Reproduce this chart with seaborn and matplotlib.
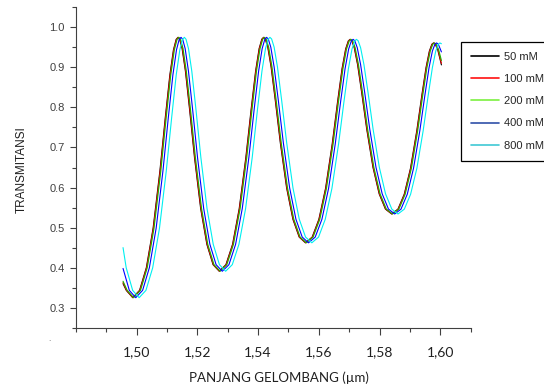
# transmitansi_plot.py

import pandas as pd
import matplotlib.pyplot as plt
from matplotlib.lines import Line2D
import seaborn as sns

# === DATA ===
labels = ['50 mM', '100 mM', '200 mM', '400 mM', '800 mM']

wl_50 = [1.4955, 1.49657,
         1.4987, 1.50094, 1.50317, 1.50541, 1.50764, 1.50943, 1.51092, 1.51211, 1.51300, 1.5136,
         1.51414, 1.51496, 1.51605, 1.51741, 1.51904, 1.52108, 1.52312, 1.52516, 1.5272,
         1.52939, 1.53158, 1.53377, 1.53596, 1.53771, 1.53917, 1.54034, 1.54122, 1.5418,
         1.54235, 1.54318, 1.54428, 1.54566, 1.54732, 1.54939, 1.55146, 1.55353, 1.5556,
         1.55781, 1.56001, 1.56222, 1.56442, 1.56618, 1.56765, 1.56883, 1.56971, 1.5703,
         1.57085, 1.57167, 1.57277, 1.57414, 1.57578, 1.57784, 1.57989, 1.58195, 1.5840,
         1.58607, 1.58814, 1.59021, 1.59228, 1.59394, 1.59532, 1.59642, 1.59725, 1.5978,
         1.59835, 1.59918, 1.6004]
tr_50 = [0.360, 0.3432,
         0.325, 0.3432, 0.3997, 0.4987, 0.6412, 0.7755, 0.8811, 0.9439, 0.9699, 0.975,
         0.9704, 0.9471, 0.8907, 0.7958, 0.6751, 0.5471, 0.4581, 0.4074, 0.391,
         0.4074, 0.4581, 0.5471, 0.6751, 0.7958, 0.8907, 0.9471, 0.9704, 0.975,
         0.9710, 0.9505, 0.9009, 0.8176, 0.7115, 0.5991, 0.5209, 0.4764, 0.462,
         0.4762, 0.5204, 0.5978, 0.7091, 0.8141, 0.8966, 0.9457, 0.9660, 0.970,
         0.9666, 0.9492, 0.9070, 0.8362, 0.7461, 0.6505, 0.5841, 0.5462, 0.534,
         0.5460, 0.5831, 0.6481, 0.7417, 0.8300, 0.8993, 0.9406, 0.9577, 0.961,
         0.9583, 0.9442, 0.9062]

wl_100 = [1.4955, 1.49667,
          1.4988, 1.50104, 1.50327, 1.50551, 1.50774, 1.50953, 1.51102, 1.51221, 1.51310, 1.5137,
          1.51424, 1.51506, 1.51615, 1.51751, 1.51914, 1.52118, 1.52322, 1.52526, 1.5273,
          1.52949, 1.53168, 1.53387, 1.53606, 1.53781, 1.53927, 1.54044, 1.54132, 1.5419,
          1.54245, 1.54328, 1.54438, 1.54576, 1.54742, 1.54949, 1.55156, 1.55363, 1.5557,
          1.55791, 1.56011, 1.56232, 1.56452, 1.56628, 1.56775, 1.56893, 1.56981, 1.5704,
          1.57095, 1.57177, 1.57287, 1.57424, 1.57588, 1.57794, 1.57999, 1.58205, 1.5841,
          1.58617, 1.58824, 1.59031, 1.59238, 1.59404, 1.59542, 1.59652, 1.59735, 1.5979,
          1.59845, 1.59928, 1.6004]
tr_100 = [0.363, 0.3432,
          0.325, 0.3432, 0.3997, 0.4987, 0.6412, 0.7755, 0.8811, 0.9439, 0.9699, 0.975,
          0.9704, 0.9471, 0.8907, 0.7958, 0.6751, 0.5471, 0.4581, 0.4074, 0.391,
          0.4074, 0.4581, 0.5471, 0.6751, 0.7958, 0.8907, 0.9471, 0.9704, 0.975,
          0.9710, 0.9505, 0.9009, 0.8176, 0.7115, 0.5991, 0.5209, 0.4764, 0.462,
          0.4762, 0.5204, 0.5978, 0.7091, 0.8141, 0.8966, 0.9457, 0.9660, 0.970,
          0.9666, 0.9492, 0.9070, 0.8362, 0.7461, 0.6505, 0.5841, 0.5462, 0.534,
          0.5460, 0.5831, 0.6481, 0.7417, 0.8300, 0.8993, 0.9406, 0.9577, 0.961,
          0.9583, 0.9442, 0.910]

wl_200 = [1.4955, 1.49687,
          1.4990, 1.50124, 1.50347, 1.50571, 1.50794, 1.50973, 1.51122, 1.51241, 1.51330, 1.5139,
          1.51444, 1.51526, 1.51635, 1.51771, 1.51934, 1.52138, 1.52342, 1.52546, 1.5275,
          1.52969, 1.53188, 1.53407, 1.53626, 1.53801, 1.53947, 1.54064, 1.54152, 1.5421,
          1.54265, 1.54348, 1.54458, 1.54596, 1.54762, 1.54969, 1.55176, 1.55383, 1.5559,
          1.55811, 1.56031, 1.56252, 1.56472, 1.56648, 1.56795, 1.56913, 1.57001, 1.5706,
          1.57115, 1.57197, 1.57307, 1.57444, 1.57608, 1.57814, 1.58019, 1.58225, 1.5843,
          1.58637, 1.58844, 1.59051, 1.59258, 1.59424, 1.59562, 1.59672, 1.59755, 1.5981,
          1.59865, 1.59948, 1.6004]
tr_200 = [0.366, 0.3432,
          0.325, 0.3432, 0.3997, 0.4987, 0.6412, 0.7755, 0.8811, 0.9439, 0.9699, 0.975,
          0.9704, 0.9471, 0.8907, 0.7958, 0.6751, 0.5471, 0.4581, 0.4074, 0.391,
          0.4074, 0.4581, 0.5471, 0.6751, 0.7958, 0.8907, 0.9471, 0.9704, 0.975,
          0.9710, 0.9505, 0.9009, 0.8176, 0.7115, 0.5991, 0.5209, 0.4764, 0.462,
          0.4762, 0.5204, 0.5978, 0.7091, 0.8141, 0.8966, 0.9457, 0.9660, 0.970,
          0.9666, 0.9492, 0.9070, 0.8362, 0.7461, 0.6505, 0.5841, 0.5462, 0.534,
          0.5460, 0.5831, 0.6481, 0.7417, 0.8300, 0.8993, 0.9406, 0.9577, 0.961,
          0.9583, 0.9442, 0.917]

wl_400 = [1.4955, 1.49757,
          1.4997, 1.50194, 1.50417, 1.50641, 1.50864, 1.51043, 1.51192, 1.51311, 1.51400, 1.5146,
          1.51514, 1.51596, 1.51705, 1.51841, 1.52004, 1.52208, 1.52412, 1.52616, 1.5282,
          1.53039, 1.53258, 1.53477, 1.53696, 1.53871, 1.54017, 1.54134, 1.54222, 1.5428,
          1.54335, 1.54418, 1.54528, 1.54666, 1.54832, 1.55039, 1.55246, 1.55453, 1.5566,
          1.55881, 1.56101, 1.56322, 1.56542, 1.56718, 1.56865, 1.56983, 1.57071, 1.5713,
          1.57185, 1.57267, 1.57377, 1.57514, 1.57678, 1.57884, 1.58089, 1.58295, 1.5850,
          1.58707, 1.58914, 1.59121, 1.59328, 1.59494, 1.59632, 1.59742, 1.59825, 1.5988,
          1.59935, 1.6004]
tr_400 = [0.398, 0.3432,
          0.325, 0.3432, 0.3997, 0.4987, 0.6412, 0.7755, 0.8811, 0.9439, 0.9699, 0.975,
          0.9704, 0.9471, 0.8907, 0.7958, 0.6751, 0.5471, 0.4581, 0.4074, 0.391,
          0.4074, 0.4581, 0.5471, 0.6751, 0.7958, 0.8907, 0.9471, 0.9704, 0.975,
          0.9710, 0.9505, 0.9009, 0.8176, 0.7115, 0.5991, 0.5209, 0.4764, 0.462,
          0.4762, 0.5204, 0.5978, 0.7091, 0.8141, 0.8966, 0.9457, 0.9660, 0.970,
          0.9666, 0.9492, 0.9070, 0.8362, 0.7461, 0.6505, 0.5841, 0.5462, 0.534,
          0.5460, 0.5831, 0.6481, 0.7417, 0.8300, 0.8993, 0.9406, 0.9577, 0.961,
          0.9583, 0.9387]

wl_800 = [1.4955, 1.49654, 1.49867,
          1.5008, 1.50304, 1.50527, 1.50751, 1.50974, 1.51153, 1.51302, 1.51421, 1.51510, 1.5157,
          1.51624, 1.51706, 1.51815, 1.51951, 1.52114, 1.52318, 1.52522, 1.52726, 1.5293,
          1.53149, 1.53368, 1.53587, 1.53806, 1.53981, 1.54127, 1.54244, 1.54332, 1.5439,
          1.54445, 1.54528, 1.54638, 1.54776, 1.54942, 1.55149, 1.55356, 1.55563, 1.5577,
          1.55991, 1.56211, 1.56432, 1.56652, 1.56828, 1.56975, 1.57093, 1.57181, 1.5724,
          1.57295, 1.57377, 1.57487, 1.57624, 1.57788, 1.57994, 1.58199, 1.58405, 1.5861,
          1.58817, 1.59024, 1.59231, 1.59438, 1.59604, 1.59742, 1.59852, 1.59935, 1.5999,
          1.6004]
tr_800 = [0.450, 0.3997, 0.3432,
          0.325, 0.3432, 0.3997, 0.4987, 0.6412, 0.7755, 0.8811, 0.9439, 0.9699, 0.975,
          0.9704, 0.9471, 0.8907, 0.7958, 0.6751, 0.5471, 0.4581, 0.4074, 0.391,
          0.4074, 0.4581, 0.5471, 0.6751, 0.7958, 0.8907, 0.9471, 0.9704, 0.975,
          0.9710, 0.9505, 0.9009, 0.8176, 0.7115, 0.5991, 0.5209, 0.4764, 0.462,
          0.4762, 0.5204, 0.5978, 0.7091, 0.8141, 0.8966, 0.9457, 0.9660, 0.970,
          0.9666, 0.9492, 0.9070, 0.8362, 0.7461, 0.6505, 0.5841, 0.5462, 0.534,
          0.5460, 0.5831, 0.6481, 0.7417, 0.8300, 0.8993, 0.9406, 0.9577, 0.961,
          0.959]

x_ticks = [1.50, 1.52, 1.54, 1.56, 1.58, 1.60]
x_tick_labels = ['1,50', '1,52', '1,54', '1,56', '1,58', '1,60']
y_ticks = [0.3, 0.4, 0.5, 0.6, 0.7, 0.8, 0.9, 1.0]
y_tick_labels = ['0.3', '0.4', '0.5', '0.6', '0.7', '0.8', '0.9', '1.0']

line_colors = {'50 mM': 'black', '100 mM': '#ff0000', '200 mM': '#19b400',
               '400 mM': '#0000ff', '800 mM': '#00f0f0'}
legend_colors = ['black', '#ff1010', '#7cf040', '#3050a8', '#40c8d4']

# === long-form table ===
parts = []
for lab, wl, tr in zip(labels, [wl_50, wl_100, wl_200, wl_400, wl_800],
                       [tr_50, tr_100, tr_200, tr_400, tr_800]):
    parts.append(pd.DataFrame({'wl': wl, 'tr': tr, 'seri': lab}))
df = pd.concat(parts, ignore_index=True)

# === plot ===
sns.set_theme(style='white')
plt.rcParams['font.family'] = ['Liberation Sans', 'DejaVu Sans']

fig = plt.figure(figsize=(5.44, 3.87), dpi=100)
ax = fig.add_axes([0.1397, 0.1532, 0.7253, 0.8279])

sns.lineplot(data=df, x='wl', y='tr', hue='seri', hue_order=labels,
             palette=line_colors, estimator=None, sort=False,
             linewidth=0.8, legend=False, ax=ax)

ax.set_xlim(1.48, 1.61)
ax.set_ylim(0.25, 1.05)

ax.set_xticks(x_ticks)
ax.set_xticklabels(x_tick_labels, fontfamily='Lato', fontsize=10, color='#202020')
ax.set_xticks([1.48, 1.49, 1.51, 1.53, 1.55, 1.57, 1.59, 1.61], minor=True)
ax.set_yticks(y_ticks)
ax.set_yticklabels(y_tick_labels, fontsize=8, color='#404040')
ax.set_yticks([0.25, 0.35, 0.45, 0.55, 0.65, 0.75, 0.85, 0.95, 1.05], minor=True)

ax.tick_params(axis='x', which='major', direction='out', length=5, width=0.8,
               color='#404040', pad=8, bottom=True)
ax.tick_params(axis='x', which='minor', direction='out', length=3, width=0.8,
               color='#404040', bottom=True)
ax.tick_params(axis='y', which='major', direction='out', length=4, width=0.8,
               color='#404040', pad=4, left=True)
ax.tick_params(axis='y', which='minor', direction='out', length=3, width=0.8,
               color='#404040', left=True)

for side in ['top', 'right']:
    ax.spines[side].set_visible(False)
for side in ['left', 'bottom']:
    ax.spines[side].set_color('#404040')
    ax.spines[side].set_linewidth(0.8)

ax.set_xlabel('PANJANG GELOMBANG (µm)', fontfamily='Lato', fontsize=9.5, color='#202020')
ax.xaxis.set_label_coords(0.514, -0.137)
ax.set_ylabel('TRANSMITANSI', fontsize=8.5, color='#202020')
ax.yaxis.set_label_coords(-0.122, 0.492)

handles = [Line2D([0], [0], color=c, lw=1.2) for c in legend_colors]
leg = ax.legend(handles, labels, loc='upper left', bbox_to_anchor=(0.847, 0.892),
                bbox_transform=fig.transFigure, frameon=True, fancybox=False,
                edgecolor='black', framealpha=1, borderaxespad=0,
                prop={'family': 'Liberation Sans', 'size': 8},
                handlelength=2.5, handletextpad=0.5, labelspacing=1.1, borderpad=0.9)
leg.get_frame().set_linewidth(0.9)

fig.text(0.088, 0.118, '.', fontsize=6, color='#606060')

fig.savefig('out.png', dpi=100)
